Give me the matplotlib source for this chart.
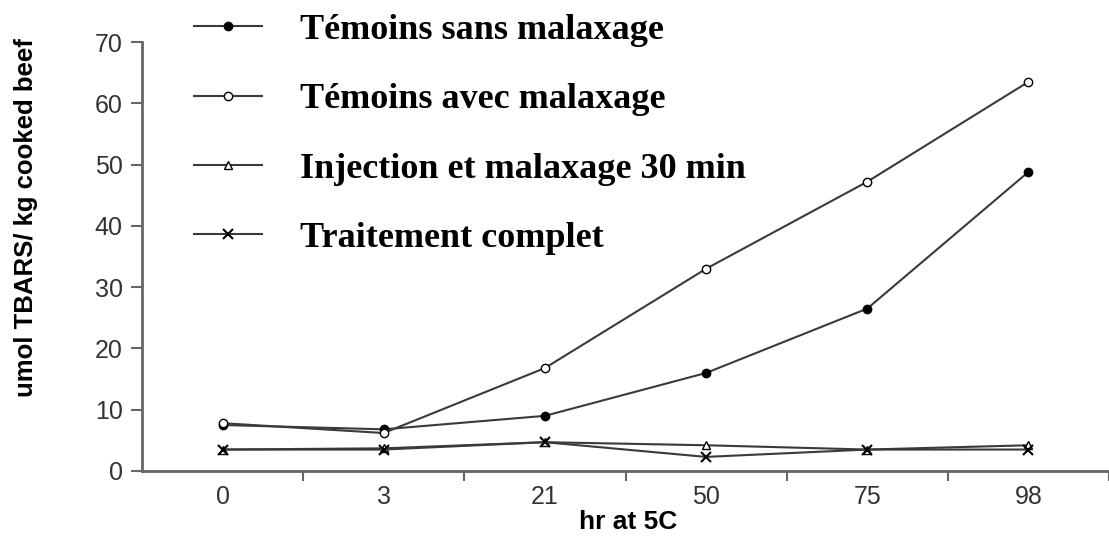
import matplotlib
matplotlib.use("Agg")
import matplotlib.pyplot as plt
import numpy as np

categories = ["0", "3", "21", "50", "75", "98"]
temoins_sans = [7.5, 6.8, 9.0, 16.0, 26.5, 48.8]
temoins_avec = [7.8, 6.2, 16.8, 33.0, 47.2, 63.5]
injection = [3.5, 3.7, 4.7, 4.2, 3.5, 4.2]
traitement = [3.5, 3.5, 4.7, 2.3, 3.5, 3.5]
labels = ["Témoins sans malaxage", "Témoins avec malaxage",
          "Injection et malaxage 30 min", "Traitement complet"]
yticks = [0, 10, 20, 30, 40, 50, 60, 70]

plt.rcParams["font.family"] = ["Liberation Sans", "DejaVu Sans"]

fig = plt.figure(figsize=(11.09, 5.41), dpi=100)
ax = fig.add_axes([142/1109, 1-471/541, 1-142/1109, (471-42)/541])

x = np.arange(len(categories))
lc = "#3a3a3a"
ax.plot(x, temoins_sans, color=lc, lw=1.5, marker="o", ms=6, mfc="black", mec="black", label=labels[0])
ax.plot(x, temoins_avec, color=lc, lw=1.5, marker="o", ms=6, mfc="white", mec="black", label=labels[1])
ax.plot(x, injection, color=lc, lw=1.5, marker="^", ms=6, mfc="white", mec="black", label=labels[2])
ax.plot(x, traitement, color=lc, lw=1.5, marker="x", ms=7, mew=1.5, mec="black", label=labels[3])

ax.set_xlim(-0.5, 5.45)
ax.set_ylim(0, 70)
ax.set_xticks(x)
ax.set_xticklabels(categories)
ax.set_xticks(np.arange(0.5, 6, 1), minor=True)
ax.set_yticks(yticks)
ax.tick_params(axis="x", which="major", length=0, pad=10, labelsize=18, labelcolor="#333333")
ax.tick_params(axis="x", which="minor", length=7, width=1.5, color="#666666", direction="out")
ax.tick_params(axis="y", length=8, width=1.5, color="#666666", pad=6, labelsize=18, labelcolor="#333333")
for s in ["top", "right"]:
    ax.spines[s].set_visible(False)
for s in ["left", "bottom"]:
    ax.spines[s].set_color("#666666")
    ax.spines[s].set_linewidth(2)
ax.set_facecolor("none")

ax.set_xlabel("hr at 5C", fontsize=19, fontweight="bold")
ax.xaxis.set_label_coords((628-142)/(1109-142), -(510-471)/429)
ax.set_ylabel("umol TBARS/ kg cooked beef", fontsize=18.5, fontweight="bold")
ax.yaxis.set_label_coords(-(142-38)/(1109-142), (471-218)/429)

leg = fig.legend(loc="upper left", bbox_to_anchor=(172/1109, 1+8/541), frameon=False,
                 prop={"family": "Liberation Serif", "weight": "bold", "size": 26},
                 handlelength=1.9, handletextpad=1.05, labelspacing=1.0, borderpad=0.1)

fig.savefig("out.png", dpi=100)
